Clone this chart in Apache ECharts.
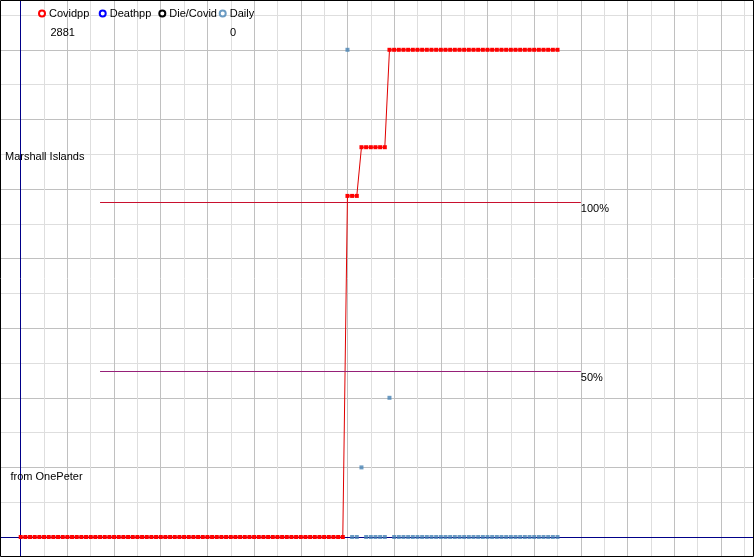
<!DOCTYPE html>
<html>
<head>
<meta charset="utf-8">
<script src="https://cdn.jsdelivr.net/npm/echarts@6/dist/echarts.min.js"></script>
<style>
html,body{margin:0;padding:0;background:#fff;}
#chart{width:754px;height:557px;}
</style>
</head>
<body>
<div id="chart"></div>
<script>
// ---- data ----
const seriesNames = ['Covidpp', 'Deathpp', 'Die/Covid', 'Daily'];
const covidpp = [
  0,0,0,0,0,0,0,0,0,0,
  0,0,0,0,0,0,0,0,0,0,
  0,0,0,0,0,0,0,0,0,0,
  0,0,0,0,0,0,0,0,0,0,
  0,0,0,0,0,0,0,0,0,0,
  0,0,0,0,0,0,0,0,0,0,
  0,0,0,0,0,0,0,0,0,0,
  2017,2017,2017,2305,2305,2305,2305,2305,2305,2881,
  2881,2881,2881,2881,2881,2881,2881,2881,2881,2881,
  2881,2881,2881,2881,2881,2881,2881,2881,2881,2881,
  2881,2881,2881,2881,2881,2881,2881,2881,2881,2881,
  2881,2881,2881,2881,2881,2881
];
const dailyStartDay = 70;
const daily = [
  7,0,0,1,0,0,0,0,0,2,
  0,0,0,0,0,0,0,0,0,0,
  0,0,0,0,0,0,0,0,0,0,
  0,0,0,0,0,0,0,0,0,0,
  0,0,0,0,0,0
];
const deathpp = [];
const dieCovid = [];
const pctLevels = [100, 50];
const pctLabels = ['100%', '50%'];
const pctLineDays = [17, 120];
const titleText = 'Marshall Islands';
const sourceText = 'from OnePeter';

// ---- layout calibration ----
const W = 754, H = 557;
const X0 = 20.7, PX_DAY = 4.668;      // pixel of day 0, px per day
const Z = 537, U = 69.6;              // pixel of zero, px per daily unit
const PX_PP = 487.2 / 2881;           // px per covidpp unit
const PCT0 = 540, PX_PCT = 3.38;      // pixel of 0%, px per %
const xMin = -10, xMax = 160, yMin = -1, yMax = 8;
const gTop = Z - yMax * U, gBot = Z - yMin * U;
const gLeft = X0 + xMin * PX_DAY, gRight = X0 + xMax * PX_DAY;

const covidData = covidpp.map((v, i) => [i, v]);
const dailyData = daily.map((v, i) => [i + dailyStartDay, v]);

const font = 'Liberation Sans';
const darkGrid = '#c0c0c0', lightGrid = '#dedede', axisBlue = '#000088';
const colors = ['#ff0000', '#0000ff', '#000000', '#4682b4'];
const pctColors = ['#c8102e', '#962078'];
const legendX = [38, 98.7, 158.3, 218.7];

const chart = echarts.init(document.getElementById('chart'), null, {renderer: 'canvas'});
chart.setOption({
  animation: false,
  backgroundColor: '#fff',
  grid: {left: gLeft, top: gTop, right: W - gRight, bottom: H - gBot,
         containLabel: false, outerBoundsMode: 'none'},
  xAxis: {
    type: 'value', min: xMin, max: xMax, interval: 10,
    axisLine: {show: true, onZero: true, onZeroAxisIndex: 0, lineStyle: {color: axisBlue, width: 1}},
    axisTick: {show: false}, axisLabel: {show: false},
    splitLine: {show: true, lineStyle: {color: darkGrid, width: 1}},
    minorTick: {show: false, splitNumber: 2},
    minorSplitLine: {show: true, lineStyle: {color: lightGrid, width: 1}}
  },
  yAxis: [
    {
      type: 'value', min: yMin, max: yMax, interval: 1,
      axisLine: {show: true, onZero: true, lineStyle: {color: axisBlue, width: 1}},
      axisTick: {show: false}, axisLabel: {show: false},
      splitLine: {show: true, lineStyle: {color: darkGrid, width: 1}},
      minorTick: {show: false, splitNumber: 2},
      minorSplitLine: {show: true, lineStyle: {color: lightGrid, width: 1}}
    },
    {
      type: 'value', show: false,
      min: -(gBot - Z) / PX_PP, max: (Z - gTop) / PX_PP,
      splitLine: {show: false}
    },
    {
      type: 'value', show: false,
      min: -(gBot - PCT0) / PX_PCT, max: (PCT0 - gTop) / PX_PCT,
      splitLine: {show: false}
    }
  ],
  legend: seriesNames.map((n, i) => ({
    data: [{name: n, icon: 'circle', itemStyle: {color: '#fff', borderColor: colors[i], borderWidth: 2}}],
    left: legendX[i], top: 8, padding: 0,
    itemWidth: 6, itemHeight: 6, itemGap: 0,
    selectedMode: false,
    textStyle: {fontFamily: font, fontSize: 11, color: '#000', padding: [0, 0, 0, -1]}
  })),
  graphic: [
    {type: 'text', left: 50.5, top: 27, silent: true, z: 50,
     style: {text: String(covidpp[covidpp.length - 1]), font: '11px ' + font, fill: '#000'}},
    {type: 'text', left: 230, top: 27, silent: true, z: 50,
     style: {text: String(daily[daily.length - 1]), font: '11px ' + font, fill: '#000'}},
    {type: 'text', left: 5, top: 151, silent: true, z: 50,
     style: {text: titleText, font: '11px ' + font, fill: '#000'}},
    {type: 'text', left: 10.5, top: 471, silent: true, z: 50,
     style: {text: sourceText, font: '11px ' + font, fill: '#000'}},
    {type: 'rect', silent: true, z: 100,
     shape: {x: 0.5, y: 0.5, width: W - 1, height: H - 1},
     style: {fill: 'none', stroke: '#000', lineWidth: 1}}
  ],
  series: [
    {
      name: seriesNames[0], type: 'line', yAxisIndex: 1, data: covidData,
      symbol: 'rect', symbolSize: [4, 4], showSymbol: true,
      itemStyle: {color: colors[0]},
      lineStyle: {color: '#e00000', width: 1},
      z: 3
    },
    {
      name: seriesNames[1], type: 'line', yAxisIndex: 1, data: deathpp,
      itemStyle: {color: colors[1]}
    },
    {
      name: seriesNames[2], type: 'line', yAxisIndex: 2, data: dieCovid,
      itemStyle: {color: colors[2]}
    },
    ...pctLevels.map((p, i) => ({
      name: pctLabels[i], type: 'line', yAxisIndex: 2, data: [],
      itemStyle: {color: pctColors[i]},
      markLine: {
        silent: true, symbol: 'none', animation: false,
        lineStyle: {color: pctColors[i], width: 1, type: 'solid'},
        label: {show: true, formatter: pctLabels[i], position: 'end', distance: 0,
                offset: [0, 7], color: '#000', fontSize: 11, fontFamily: font},
        data: [[{coord: [pctLineDays[0], p]}, {coord: [pctLineDays[1], p]}]]
      }
    })),
    {
      name: seriesNames[3], type: 'scatter', yAxisIndex: 0, data: dailyData,
      symbol: 'rect', symbolSize: [4, 4],
      itemStyle: {color: colors[3]},
      z: 4
    }
  ]
});
</script>
</body>
</html>
